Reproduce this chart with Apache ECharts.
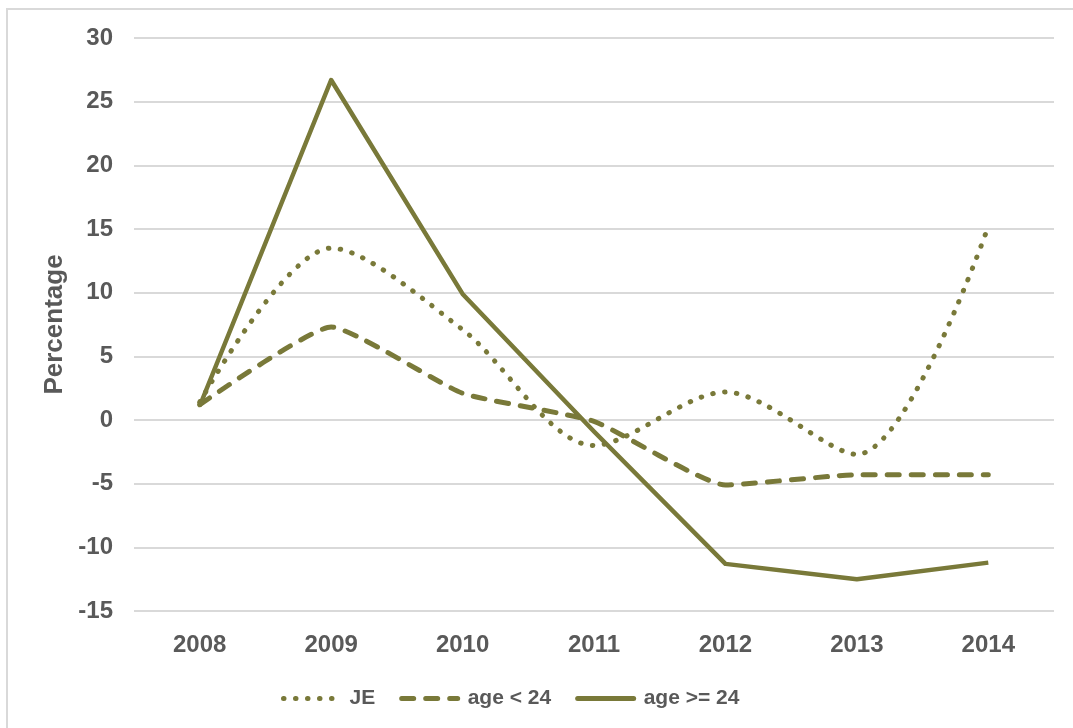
<!DOCTYPE html>
<html>
<head>
<meta charset="utf-8">
<script src="https://cdn.jsdelivr.net/npm/echarts@6/dist/echarts.min.js"></script>
<style>
html,body{margin:0;padding:0;background:#fff;}
#c{width:1073px;height:728px;}
</style>
</head>
<body>
<div id="c"></div>
<script>
const categories = ['2008','2009','2010','2011','2012','2013','2014'];
const seriesNames = ['JE','age < 24','age >= 24'];
const je = [1.4, 13.5, 7.1, -2.0, 2.2, -2.7, 15.2];
const ageUnder24 = [1.2, 7.3, 2.1, -0.1, -5.1, -4.3, -4.3];
const ageOver24 = [1.1, 26.7, 9.9, -0.9, -11.3, -12.5, -11.2];
const yTicks = [-15, -10, -5, 0, 5, 10, 15, 20, 25, 30];

const color = '#797939';
const textColor = '#595959';
const font = 'Liberation Sans, Arial, sans-serif';

const dotStyle = {color: color, width: 5, type: [0.5, 11.5], cap: 'round', join: 'round'};
const dashStyle = {color: color, width: 5, type: [12, 12], cap: 'round', join: 'round'};
const solidStyle = {color: color, width: 5, type: 'solid', cap: 'round', join: 'round'};

const chart = echarts.init(document.getElementById('c'));
chart.setOption({
  animation: false,
  backgroundColor: '#fff',
  graphic: [{
    type: 'rect',
    shape: {x: 7, y: 9, width: 1100, height: 760},
    style: {fill: 'none', stroke: '#d9d9d9', lineWidth: 2},
    silent: true, z: -1
  }],
  grid: {left: 134, right: 19, top: 38, bottom: 117},
  legend: {
    data: [
      {name: seriesNames[0], lineStyle: dotStyle},
      {name: seriesNames[1], lineStyle: dashStyle},
      {name: seriesNames[2], lineStyle: solidStyle}
    ],
    top: 688,
    left: 281,
    padding: 0,
    itemWidth: 56,
    itemHeight: 24,
    itemGap: 24,
    itemStyle: {opacity: 0},
    textStyle: {color: textColor, fontSize: 21, fontWeight: 'bold', fontFamily: font, padding: [0, 0, 0, 5]}
  },
  xAxis: {
    type: 'category',
    data: categories,
    boundaryGap: true,
    axisLine: {show: false},
    axisTick: {show: false},
    axisLabel: {color: textColor, fontSize: 24, fontWeight: 'bold', fontFamily: font, margin: 22}
  },
  yAxis: {
    type: 'value',
    min: yTicks[0],
    max: yTicks[yTicks.length - 1],
    interval: 5,
    name: 'Percentage',
    nameLocation: 'middle',
    nameGap: 62,
    nameRotate: 90,
    nameTextStyle: {color: textColor, fontSize: 26, fontWeight: 'bold', fontFamily: font},
    axisLine: {show: false},
    axisTick: {show: false},
    axisLabel: {color: textColor, fontSize: 24, fontWeight: 'bold', fontFamily: font, margin: 21},
    splitLine: {lineStyle: {color: '#d9d9d9', width: 2}}
  },
  series: [
    {
      name: seriesNames[0], type: 'line', data: je, symbol: 'none', smooth: 0.3,
      itemStyle: {color: color},
      lineStyle: dotStyle
    },
    {
      name: seriesNames[1], type: 'line', data: ageUnder24, symbol: 'none', smooth: 0.15,
      itemStyle: {color: color},
      lineStyle: dashStyle
    },
    {
      name: seriesNames[2], type: 'line', data: ageOver24, symbol: 'none',
      itemStyle: {color: color},
      lineStyle: {color: color, width: 4.5, type: 'solid', join: 'round'}
    }
  ]
});
</script>
</body>
</html>
